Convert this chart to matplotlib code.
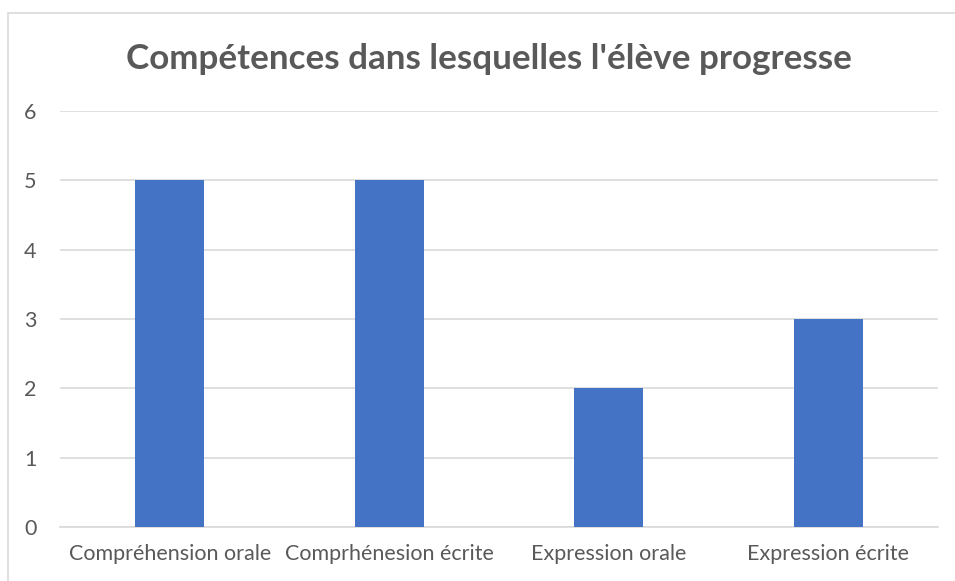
import matplotlib
matplotlib.use("Agg")
import matplotlib.pyplot as plt
from matplotlib.patches import Rectangle

categories = ["Compréhension orale", "Comprhénesion écrite", "Expression orale", "Expression écrite"]
values = [5, 5, 2, 3]
yticks = [0, 1, 2, 3, 4, 5, 6]

W, H = 955, 581
plt.rcParams["font.family"] = ["Lato", "DejaVu Sans"]

fig = plt.figure(figsize=(W / 100, H / 100), dpi=100)
ax = fig.add_axes([60 / W, 1 - 527 / H, (938 - 60) / W, (527 - 111) / H])

x = list(range(len(categories)))
ax.bar(x, values, width=0.314, color="#4472C4", zorder=3)
ax.set_xlim(-0.5, len(categories) - 0.5)
ax.set_ylim(0, 6)
ax.set_yticks(yticks)
ax.set_xticks(x)
ax.set_xticklabels(categories)
ax.grid(axis="y", color="#d9d9d9", linewidth=1.2, zorder=0)
for s in ("top", "right", "left"):
    ax.spines[s].set_visible(False)
ax.spines["bottom"].set_color("#d9d9d9")
ax.spines["bottom"].set_linewidth(1.2)
ax.tick_params(length=0, labelsize=15.5, colors="#595959")
ax.tick_params(axis="x", pad=12)
ax.tick_params(axis="y", pad=17)

fig.text(489 / W, 1 - 59 / H, "Compétences dans lesquelles l'élève progresse",
         ha="center", va="center", fontsize=25.2, fontweight="bold", color="#595959")

fig.patches.append(Rectangle((8 / W, -1), 2, 1 - 13 / H + 1, transform=fig.transFigure,
                             fill=False, edgecolor="#d9d9d9", linewidth=1.2))

fig.savefig("out.png", dpi=100)
